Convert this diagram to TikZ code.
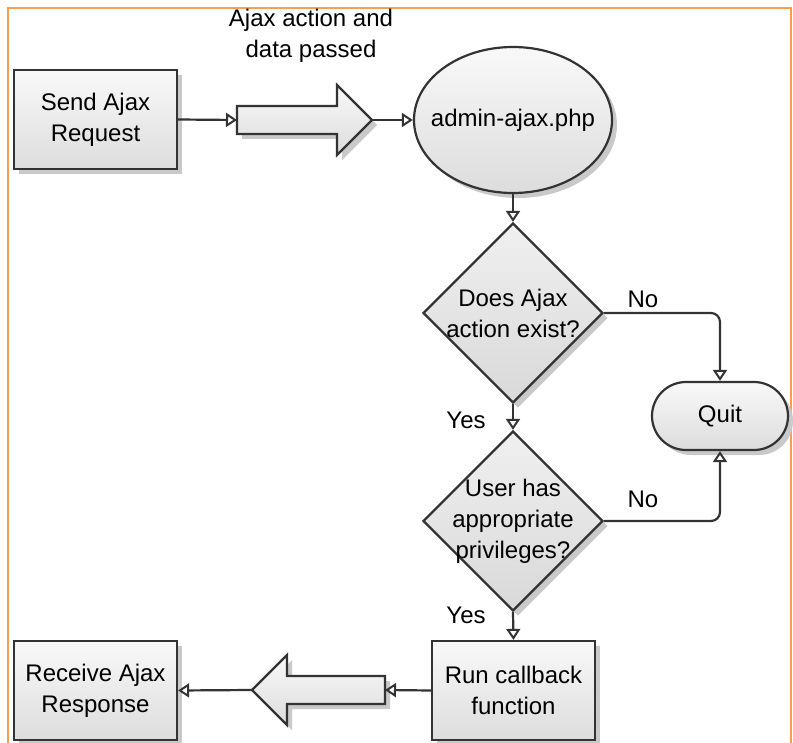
\documentclass[tikz,border=0pt]{standalone}
\usepackage{fontspec}
\setmainfont{Liberation Sans}
\usetikzlibrary{arrows.meta,shapes.geometric,shapes.misc,shadows}
\definecolor{framec}{HTML}{F7A04C}
\definecolor{linec}{HTML}{333333}
\definecolor{shadowc}{HTML}{C9C9C9}
\begin{document}
\begin{tikzpicture}[x=1pt,y=-1pt,
  txt/.style={font=\fontsize{24}{31}\selectfont, align=center, text=black},
  base/.style={draw=linec, line width=2.2pt, top color=gray!5, bottom color=gray!27,
    general shadow={fill=shadowc, shadow xshift=5pt, shadow yshift=-5pt}},
  procbox/.style={base, rectangle, minimum width=163pt, minimum height=99pt, inner sep=0pt, txt},
  decbox/.style={base, diamond, aspect=1, minimum width=180pt, minimum height=180pt, inner sep=0pt,
    top color=gray!12, bottom color=gray!30},
  termbox/.style={base, ellipse, minimum width=198pt, minimum height=146pt, inner sep=0pt},
  quitbox/.style={base, rounded rectangle, minimum width=136pt, minimum height=68pt, inner sep=0pt, txt},
  conn/.style={draw=linec, line width=2.2pt, -{Triangle[open, length=11pt, width=14pt, line width=2pt]}},
]
\useasboundingbox (0,0) rectangle (793,743);

% page frame
\draw[framec, line width=1.6pt] (8,743) -- (8,8) -- (791,8) -- (791,743);

% nodes
\node[procbox] (send) at (95.5,119.5) {Send Ajax\\Request};
\node[termbox, label={[txt]center:admin-ajax.php}] (adm) at (513,120) {};
\node[decbox, label={[txt]center:{Does Ajax\\action exist?}}] (d1) at (513,313) {};
\node[decbox, label={[txt]center:{User has\\appropriate\\privileges?}}] (d2) at (513,521) {};
\node[quitbox] (quit) at (720,416) {Quit};
\node[procbox] (run) at (513.5,690.5) {Run callback\\function};
\node[procbox] (recv) at (95.5,690.5) {Receive Ajax\\Response};

% block arrows
\path[base] (237,106) -- (337,106) -- (337,85) -- (372,120) -- (337,155) -- (337,134) -- (237,134) -- cycle;
\coordinate (ra-tail) at (237,120);
\coordinate (ra-tip) at (372,120);
\path[base] (385,676) -- (287,676) -- (287,655) -- (252,690) -- (287,725) -- (287,704) -- (385,704) -- cycle;
\coordinate (la-tail) at (385,690);
\coordinate (la-tip) at (252,690);

% header text
\node[txt] (hdr) at (311,36) {Ajax action and\\data passed};

% connectors
\draw[conn] (send.east) -- (ra-tail);
\draw[conn] (ra-tip) -- (adm.west);
\draw[conn] (adm.south) -- (d1.north);
\draw[conn] (d1.south) -- (d2.north);
\draw[conn, rounded corners=9pt] (d1.east) -| (quit.north);
\draw[conn, rounded corners=9pt] (d2.east) -| (quit.south);
\draw[conn] (d2.south) -- (run.north);
\draw[conn] (run.west) -- (la-tail);
\draw[conn] (la-tip) -- (recv.east);

% branch labels
\node[txt] (no1) at (643,299) {No};
\node[txt] (no2) at (643,499) {No};
\node[txt] (yes1) at (466,420) {Yes};
\node[txt] (yes2) at (466,615) {Yes};
\end{tikzpicture}
\end{document}
